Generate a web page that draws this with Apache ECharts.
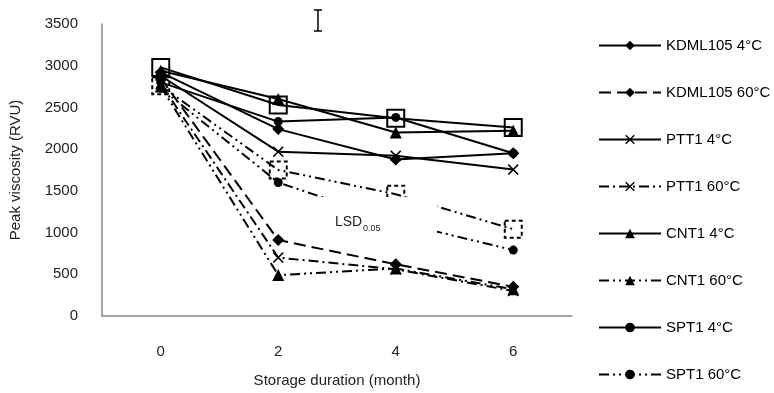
<!DOCTYPE html>
<html>
<head>
<meta charset="utf-8">
<script src="https://cdn.jsdelivr.net/npm/echarts@6/dist/echarts.min.js"></script>
<style>
  html, body { margin: 0; padding: 0; background: #fff; }
  #chart { width: 774px; height: 393px; }
</style>
</head>
<body>
<div id="chart"></div>
<script>
// storage duration (month)
const months = ['0', '2', '4', '6'];

// peak viscosity (RVU)
const kdml4 = [2920, 2240, 1875, 1950];
const kdml60 = [2850, 910, 620, 350];
const ptt4 = [2880, 1970, 1920, 1755];
const ptt60 = [2780, 700, 560, 300];
const cnt4 = [2940, 2600, 2200, 2220];
const cnt60 = [2750, 490, 570, 320];
const spt4 = [2800, 2330, 2380, 1950];
const spt60 = [2730, 1600, 1130, 790];
// two extra series with square markers (not listed in the legend)
const sq4 = [2980, 2530, 2370, 2260];
const sq60 = [2760, 1750, 1460, 1040];

const yTicks = [0, 500, 1000, 1500, 2000, 2500, 3000, 3500];

const FONT = 'Liberation Sans, Arial';
const xMark = 'path://M1,0 L5,4 L9,0 L10,1 L6,5 L10,9 L9,10 L5,6 L1,10 L0,9 L4,5 L0,1 Z';

function line(name, data, symbol, size, dash) {
  return {
    name: name,
    type: 'line',
    data: data,
    symbol: symbol,
    symbolSize: size,
    showSymbol: true,
    lineStyle: { color: '#000', width: 2, type: dash },
    itemStyle: { color: '#000' },
    animation: false
  };
}

const chart = echarts.init(document.getElementById('chart'));

const option = {
  backgroundColor: '#fff',
  grid: { left: 101, right: 202, top: 24, bottom: 76 },
  legend: {
    orient: 'vertical',
    left: 593,
    top: 33,
    height: 357,
    itemWidth: 62,
    itemHeight: 12,
    itemGap: 32,
    textStyle: { fontFamily: FONT, fontSize: 15, color: '#000' },
    data: ['KDML105 4°C', 'KDML105 60°C', 'PTT1 4°C', 'PTT1 60°C',
           'CNT1 4°C', 'CNT1 60°C', 'SPT1 4°C', 'SPT1 60°C']
  },
  xAxis: {
    type: 'category',
    data: months,
    boundaryGap: true,
    name: 'Storage duration (month)',
    nameLocation: 'middle',
    nameGap: 57,
    nameTextStyle: { fontFamily: FONT, fontSize: 15, color: '#222', verticalAlign: 'top' },
    axisLine: { lineStyle: { color: '#888', width: 1.5 } },
    axisTick: { show: false },
    axisLabel: { margin: 28, fontFamily: FONT, fontSize: 15, color: '#222' }
  },
  yAxis: {
    type: 'value',
    min: 0,
    max: 3500,
    interval: 500,
    name: 'Peak viscosity (RVU)',
    nameLocation: 'middle',
    nameGap: 79,
    nameTextStyle: { fontFamily: FONT, fontSize: 15, color: '#222' },
    axisLine: { show: true, lineStyle: { color: '#888', width: 1.5 } },
    axisTick: { show: false },
    splitLine: { show: false },
    axisLabel: {
      margin: 24,
      fontFamily: FONT,
      fontSize: 15,
      color: '#222',
      formatter: function (v) { return yTicks.indexOf(v) >= 0 ? String(v) : ''; }
    }
  },
  series: [
    line('KDML105 4°C', kdml4, 'diamond', 12, 'solid'),
    line('KDML105 60°C', kdml60, 'diamond', 12, [12, 6]),
    line('PTT1 4°C', ptt4, xMark, 11, 'solid'),
    line('PTT1 60°C', ptt60, xMark, 11, [10, 4, 2, 4]),
    line('CNT1 4°C', cnt4, 'triangle', 12, 'solid'),
    line('CNT1 60°C', cnt60, 'triangle', 12, [10, 4, 2, 4, 2, 4]),
    line('SPT1 4°C', spt4, 'circle', 9, 'solid'),
    line('SPT1 60°C', spt60, 'circle', 9, [10, 4, 2, 4, 2, 4]),
    {
      name: 'sq4',
      type: 'line',
      data: sq4,
      symbol: 'rect',
      symbolSize: 17,
      lineStyle: { color: '#000', width: 2 },
      itemStyle: { color: 'rgba(0,0,0,0)', borderColor: '#000', borderWidth: 2 },
      animation: false
    },
    {
      name: 'sq60',
      type: 'line',
      data: sq60,
      symbol: 'rect',
      symbolSize: 17,
      lineStyle: { color: '#000', width: 2, type: [10, 4, 2, 4, 2, 4] },
      itemStyle: { color: 'rgba(0,0,0,0)', borderColor: '#000', borderWidth: 2, borderType: [4, 3] },
      animation: false
    }
  ],
  graphic: [
    // white text box behind the LSD label
    { type: 'rect', left: 318, top: 197, shape: { width: 119, height: 38 }, style: { fill: '#fff' }, z: 100 },
    { type: 'text', left: 335, top: 215, style: { text: 'LSD', fontFamily: FONT, fontSize: 14, fill: '#222' }, z: 101 },
    { type: 'text', left: 363, top: 224, style: { text: '0.05', fontFamily: FONT, fontSize: 9, fill: '#222' }, z: 101 },
    // LSD error bar
    { type: 'line', shape: { x1: 318, y1: 10, x2: 318, y2: 31 }, style: { stroke: '#000', lineWidth: 1.5 }, z: 101 },
    { type: 'line', shape: { x1: 314, y1: 10, x2: 322, y2: 10 }, style: { stroke: '#000', lineWidth: 1.5 }, z: 101 },
    { type: 'line', shape: { x1: 314, y1: 31, x2: 322, y2: 31 }, style: { stroke: '#000', lineWidth: 1.5 }, z: 101 }
  ]
};

chart.setOption(option);
</script>
</body>
</html>
